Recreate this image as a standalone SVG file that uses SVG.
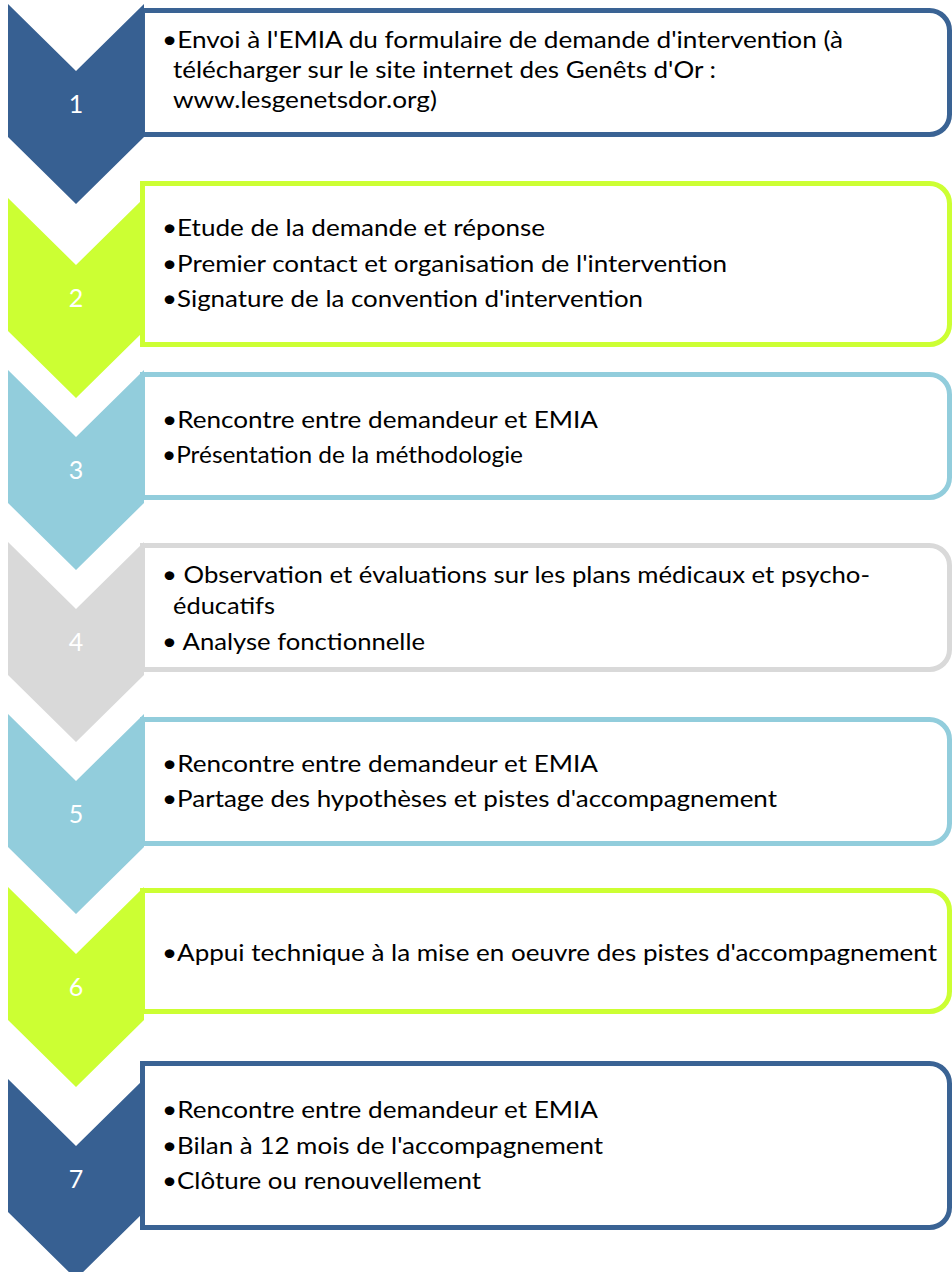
<svg xmlns="http://www.w3.org/2000/svg" width="952" height="1272" viewBox="0 0 952 1272">
<style>
.box{fill:#fff;stroke-width:5}
.t{font-family:Lato,"Open Sans","Liberation Sans",sans-serif;font-size:23px;fill:#000}
.n{font-family:Lato,"Open Sans","Liberation Sans",sans-serif;font-size:25px;fill:#fff;text-anchor:middle}
.c1{fill:#376092}.s1{stroke:#3A6394}
.c2{fill:#CCFF33}.s2{stroke:#CCFF33}
.c3{fill:#92CDDC}.s3{stroke:#92CDDC}
.c4{fill:#D9D9D9}.s4{stroke:#D9D9D9}
</style>
<rect width="952" height="1272" fill="#fff"/>
<g id="step1">
<path class="box s1" d="M142.5,10.5 H929.5 A20,20 0 0 1 949.5,30.5 V114.5 A20,20 0 0 1 929.5,134.5 H142.5 Z"/>
<path class="c1" d="M8,4 L76,71 L144,4 L144,137 L76,204 L8,137 Z"/>
<text class="n" x="76" y="113">1</text>
<text class="t" x="162" y="48" textLength="681" lengthAdjust="spacingAndGlyphs">•Envoi à l'EMIA du formulaire de demande d'intervention (à</text>
<text class="t" x="173" y="78" textLength="543" lengthAdjust="spacingAndGlyphs">télécharger sur le site internet des Genêts d'Or :</text>
<text class="t" x="173" y="108" textLength="264" lengthAdjust="spacingAndGlyphs">www.lesgenetsdor.org)</text>
</g>
<g id="step2">
<path class="box s2" d="M142.5,183.5 H929.5 A20,20 0 0 1 949.5,203.5 V324.5 A20,20 0 0 1 929.5,344.5 H142.5 Z"/>
<path class="c2" d="M8,198 L76,265 L144,198 L144,331 L76,398 L8,331 Z"/>
<text class="n" x="76" y="307">2</text>
<text class="t" x="162" y="236" textLength="383" lengthAdjust="spacingAndGlyphs">•Etude de la demande et réponse</text>
<text class="t" x="162" y="272" textLength="565" lengthAdjust="spacingAndGlyphs">•Premier contact et organisation de l'intervention</text>
<text class="t" x="162" y="307" textLength="481" lengthAdjust="spacingAndGlyphs">•Signature de la convention d'intervention</text>
</g>
<g id="step3">
<path class="box s3" d="M142.5,374.5 H929.5 A20,20 0 0 1 949.5,394.5 V477.5 A20,20 0 0 1 929.5,497.5 H142.5 Z"/>
<path class="c3" d="M8,370 L76,437 L144,370 L144,503 L76,570 L8,503 Z"/>
<text class="n" x="76" y="479">3</text>
<text class="t" x="162" y="428" textLength="436" lengthAdjust="spacingAndGlyphs">•Rencontre entre demandeur et EMIA</text>
<text class="t" x="162" y="463" textLength="361" lengthAdjust="spacingAndGlyphs">•Présentation de la méthodologie</text>
</g>
<g id="step4">
<path class="box s4" d="M142.5,545.5 H929.5 A20,20 0 0 1 949.5,565.5 V649.5 A20,20 0 0 1 929.5,669.5 H142.5 Z"/>
<path class="c4" d="M8,542 L76,609 L144,542 L144,675 L76,742 L8,675 Z"/>
<text class="n" x="76" y="651">4</text>
<text class="t" x="162" y="583" textLength="708" lengthAdjust="spacingAndGlyphs">• Observation et évaluations sur les plans médicaux et psycho-</text>
<text class="t" x="173" y="614" textLength="102" lengthAdjust="spacingAndGlyphs">éducatifs</text>
<text class="t" x="162" y="650" textLength="263" lengthAdjust="spacingAndGlyphs">• Analyse fonctionnelle</text>
</g>
<g id="step5">
<path class="box s3" d="M142.5,719.5 H929.5 A20,20 0 0 1 949.5,739.5 V823.5 A20,20 0 0 1 929.5,843.5 H142.5 Z"/>
<path class="c3" d="M8,714 L76,781 L144,714 L144,847 L76,914 L8,847 Z"/>
<text class="n" x="76" y="823">5</text>
<text class="t" x="162" y="772" textLength="436" lengthAdjust="spacingAndGlyphs">•Rencontre entre demandeur et EMIA</text>
<text class="t" x="162" y="807" textLength="615" lengthAdjust="spacingAndGlyphs">•Partage des hypothèses et pistes d'accompagnement</text>
</g>
<g id="step6">
<path class="box s2" d="M142.5,890.5 H929.5 A20,20 0 0 1 949.5,910.5 V991.5 A20,20 0 0 1 929.5,1011.5 H142.5 Z"/>
<path class="c2" d="M8,887 L76,954 L144,887 L144,1020 L76,1087 L8,1020 Z"/>
<text class="n" x="76" y="996">6</text>
<text class="t" x="162" y="961" textLength="775" lengthAdjust="spacingAndGlyphs">•Appui technique à la mise en oeuvre des pistes d'accompagnement</text>
</g>
<g id="step7">
<path class="box s1" d="M142.5,1063.5 H929.5 A20,20 0 0 1 949.5,1083.5 V1207.5 A20,20 0 0 1 929.5,1227.5 H142.5 Z"/>
<path class="c1" d="M8,1079 L76,1146 L144,1079 L144,1212 L76,1279 L8,1212 Z"/>
<text class="n" x="76" y="1188">7</text>
<text class="t" x="162" y="1118" textLength="436" lengthAdjust="spacingAndGlyphs">•Rencontre entre demandeur et EMIA</text>
<text class="t" x="162" y="1154" textLength="441" lengthAdjust="spacingAndGlyphs">•Bilan à 12 mois de l'accompagnement</text>
<text class="t" x="162" y="1189" textLength="319" lengthAdjust="spacingAndGlyphs">•Clôture ou renouvellement</text>
</g>
<g id="connectors"/>
</svg>
